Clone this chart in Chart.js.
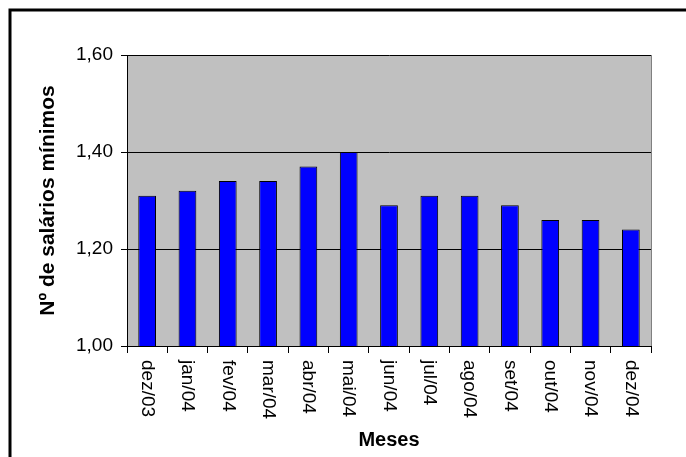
<!DOCTYPE html>
<html lang="pt">
<head>
<meta charset="utf-8">
<title>Nº de salários mínimos</title>
<script src="https://cdn.jsdelivr.net/npm/chart.js@4.4.1/dist/chart.umd.min.js"></script>
<style>
    html, body { margin: 0; padding: 0; background: #ffffff; }
    #wrap { width: 686px; height: 457px; position: relative; }
</style>
</head>
<body>
<div id="wrap"><canvas id="salariosChart"></canvas></div>
<script>
// ======================================
// DADOS
// ======================================
const meses = ['dez/03', 'jan/04', 'fev/04', 'mar/04', 'abr/04', 'mai/04', 'jun/04',
               'jul/04', 'ago/04', 'set/04', 'out/04', 'nov/04', 'dez/04'];
const salariosMinimos = [1.31, 1.32, 1.34, 1.34, 1.37, 1.40, 1.29, 1.31, 1.31, 1.29, 1.26, 1.26, 1.24];
const yTicks = [1.00, 1.20, 1.40, 1.60];

const FONT_FAMILY = '"Liberation Sans", Arial, sans-serif';

/**
 * Formata o valor com vírgula decimal (1,40)
 */
function formatTick(value) {
    return Number(value).toFixed(2).replace('.', ',');
}

// ======================================
// PLUGINS
// ======================================

// fundo cinzento da área do gráfico + moldura exterior
const plotAreaPlugin = {
    id: 'plotArea',
    beforeDraw(chart) {
        const { ctx, chartArea } = chart;
        ctx.save();
        ctx.fillStyle = '#c0c0c0';
        ctx.fillRect(chartArea.left, chartArea.top, chartArea.right - chartArea.left, chartArea.bottom - chartArea.top);

        // moldura do gráfico (só topo e esquerda ficam visíveis)
        ctx.strokeStyle = '#000000';
        ctx.lineWidth = 3;
        ctx.beginPath();
        ctx.moveTo(10, chart.height + 5);
        ctx.lineTo(10, 10);
        ctx.lineTo(chart.width + 5, 10);
        ctx.stroke();
        ctx.restore();
    },
    afterDatasetsDraw(chart) {
        const { ctx, chartArea } = chart;
        ctx.save();
        ctx.strokeStyle = '#808080';
        ctx.lineWidth = 1;
        ctx.beginPath();
        ctx.moveTo(chartArea.right + 0.5, chartArea.top);
        ctx.lineTo(chartArea.right + 0.5, chartArea.bottom);
        ctx.stroke();
        ctx.restore();
    }
};

// rótulos do eixo x rodados 90° no sentido horário
const xLabelsPlugin = {
    id: 'xLabels',
    afterDraw(chart) {
        const { ctx, chartArea } = chart;
        const xScale = chart.scales.x;
        ctx.save();
        ctx.fillStyle = '#000000';
        ctx.font = '19px ' + FONT_FAMILY;
        ctx.textAlign = 'left';
        ctx.textBaseline = 'middle';
        meses.forEach((label, i) => {
            const x = xScale.getPixelForValue(i);
            ctx.save();
            ctx.translate(x, chartArea.bottom + 14);
            ctx.rotate(Math.PI / 2);
            ctx.fillText(label, 0, 0);
            ctx.restore();
        });
        ctx.restore();
    }
};

// ======================================
// GRÁFICO
// ======================================
document.addEventListener('DOMContentLoaded', function() {
    const ctx = document.getElementById('salariosChart').getContext('2d');

    new Chart(ctx, {
        type: 'bar',
        data: {
            labels: meses,
            datasets: [{
                label: 'Nº de salários mínimos',
                data: salariosMinimos,
                backgroundColor: '#0000ff',
                borderColor: '#000000',
                borderWidth: 1,
                borderSkipped: false,
                barPercentage: 0.44,
                categoryPercentage: 1.0
            }]
        },
        options: {
            responsive: true,
            maintainAspectRatio: false,
            animation: false,
            devicePixelRatio: 1,
            layout: { padding: { top: 55, right: 35, bottom: 0, left: 0 } },
            plugins: {
                legend: { display: false },
                title: { display: false },
                tooltip: { enabled: false }
            },
            scales: {
                x: {
                    offset: true,
                    afterFit: scale => { scale.height = 111; },
                    grid: {
                        display: true,
                        offset: true,
                        drawOnChartArea: false,
                        drawTicks: true,
                        tickLength: 7,
                        color: '#000000'
                    },
                    border: { display: true, color: '#000000', width: 1 },
                    ticks: { display: false },
                    title: {
                        display: true,
                        text: 'Meses',
                        color: '#000000',
                        font: { family: FONT_FAMILY, size: 20, weight: 'bold' },
                        padding: { top: 0, bottom: 5 }
                    }
                },
                y: {
                    min: 1.0,
                    max: 1.6,
                    afterFit: scale => { scale.width = 127; },
                    afterBuildTicks: scale => { scale.ticks = yTicks.map(v => ({ value: v })); },
                    grid: {
                        color: '#000000',
                        lineWidth: 1,
                        tickLength: 6,
                        drawTicks: true
                    },
                    border: { display: true, color: '#000000', width: 1 },
                    ticks: {
                        padding: 8,
                        color: '#000000',
                        font: { family: FONT_FAMILY, size: 19 },
                        callback: value => formatTick(value)
                    },
                    title: {
                        display: true,
                        text: 'Nº de salários mínimos',
                        color: '#000000',
                        font: { family: FONT_FAMILY, size: 21, weight: 'bold' },
                        padding: { top: 36, bottom: 0 }
                    }
                }
            }
        },
        plugins: [plotAreaPlugin, xLabelsPlugin]
    });
});
</script>
</body>
</html>
